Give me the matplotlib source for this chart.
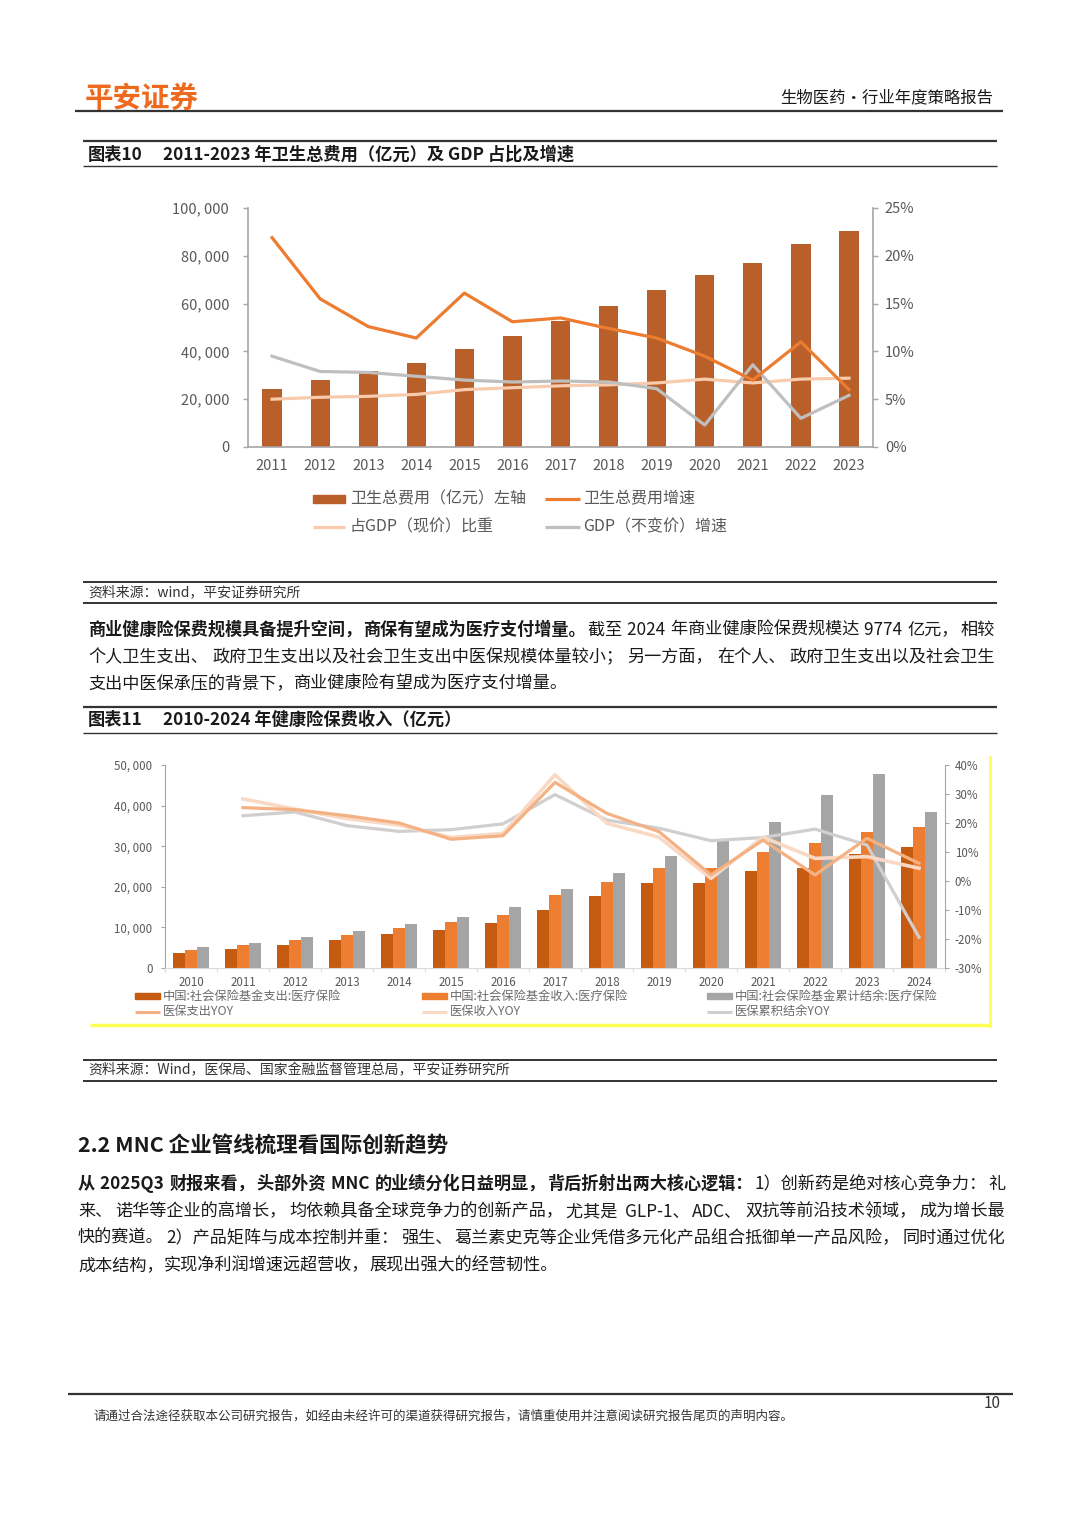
import re
import numpy as np
import matplotlib
matplotlib.use("Agg")
import matplotlib.pyplot as plt
from matplotlib.lines import Line2D
from matplotlib.patches import Rectangle

plt.rcParams['font.family'] = ['Noto Sans CJK SC', 'DejaVu Sans']

# ---- chart 10 data: health expenditure (100m yuan) and rates (%)
years1 = ['2011', '2012', '2013', '2014', '2015', '2016', '2017',
          '2018', '2019', '2020', '2021', '2022', '2023']
health_exp = [24346, 28119, 31669, 35312, 40975, 46345, 52598,
              59122, 65841, 72175, 76845, 84847, 90576]
health_growth = [21.9, 15.5, 12.6, 11.4, 16.1, 13.1, 13.5, 12.4, 11.4, 9.5, 7.0, 11.0, 6.0]
gdp_share = [5.0, 5.2, 5.3, 5.5, 6.0, 6.2, 6.4, 6.5, 6.7, 7.1, 6.7, 7.1, 7.2]
gdp_growth = [9.5, 7.9, 7.8, 7.4, 7.0, 6.8, 6.9, 6.8, 6.1, 2.3, 8.6, 3.0, 5.4]

# ---- chart 11 data: medical insurance fund (100m yuan) and YOY (%)
years2 = ['2010', '2011', '2012', '2013', '2014', '2015', '2016', '2017',
          '2018', '2019', '2020', '2021', '2022', '2023', '2024']
fund_exp = [3620, 4600, 5660, 6900, 8290, 9360, 11000, 14290,
            17810, 20860, 21010, 23970, 24550, 28080, 29720]
fund_inc = [4430, 5580, 6980, 8210, 9770, 11250, 13140, 17980,
            21260, 24560, 24710, 28650, 30710, 33420, 34800]
fund_bal = [5090, 6240, 7630, 9200, 10760, 12640, 15100, 19380,
            23320, 27590, 31280, 36040, 42610, 47780, 38500]
exp_yoy = [np.nan, 25.3, 24.6, 22.5, 20.0, 14.4, 15.6, 34.0, 23.3, 17.0, 2.1, 14.1, 2.1, 14.7, 6.1]
inc_yoy = [np.nan, 28.3, 24.8, 21.5, 19.3, 15.0, 16.4, 36.6, 19.9, 15.1, 0.9, 15.1, 7.8, 8.4, 4.4]
bal_yoy = [np.nan, 22.5, 23.8, 19.1, 17.1, 17.7, 19.7, 29.8, 21.0, 18.2, 13.9, 15.0, 17.9, 12.4, -19.4]

legend1 = ['卫生总费用（亿元）左轴', '卫生总费用增速', '占GDP（现价）比重', 'GDP（不变价）增速']
legend2 = ['中国:社会保险基金支出:医疗保险', '中国:社会保险基金收入:医疗保险',
           '中国:社会保险基金累计结余:医疗保险', '医保支出YOY', '医保收入YOY', '医保累积结余YOY']

W, H = 1080, 1528
fig = plt.figure(figsize=(W / 100, H / 100), dpi=100)
fig.patch.set_facecolor('white')
renderer = fig.canvas.get_renderer()

TXT = '#1a1a1a'
GRAY_T = '#595959'
AX_GRAY = '#A6A6A6'


def fx(x):
    return x / W


def fy(y):
    return 1 - y / H


def hline(y, x0, x1, lw=1.0, color='#333333'):
    fig.add_artist(Line2D([fx(x0), fx(x1)], [fy(y), fy(y)], lw=lw, color=color,
                          transform=fig.transFigure, solid_capstyle='butt'))


def put(x, y, s, size, bold=False, color=TXT, ha='left', **kw):
    return fig.text(fx(x), fy(y), s, fontsize=size, fontweight='bold' if bold else 'normal',
                    color=color, ha=ha, va='center', **kw)


def text_line(x0, x1, y, parts, size, justify=True):
    # split after punctuation / spaces, spread the spare room over the gaps
    chunks = []
    for s, bold in parts:
        for c in re.findall(r'[^，、；：。 ]*[，、；：。 ]?', s):
            if c:
                chunks.append((c, bold))
    objs = []
    total = 0
    for c, bold in chunks:
        t = put(x0, y, c, size, bold)
        w = t.get_window_extent(renderer).width
        objs.append((t, w))
        total += w
    gap = 0
    if justify and len(objs) > 1:
        gap = (x1 - x0 - total) / (len(objs) - 1)
    x = x0
    for t, w in objs:
        t.set_x(fx(x))
        x += w + gap


# ---------------- page header ----------------
put(85, 99, '平安证券', 20.5, bold=True, color='#EE6A1F')
put(993, 98, '生物医药·行业年度策略报告', 11.8, ha='right')
hline(111, 75, 1003, lw=1.6)

# ---------------- chart 10 ----------------
hline(141, 83, 997, lw=1.6)
put(88, 155, '图表10', 12.4, bold=True)
put(163, 155, '2011-2023 年卫生总费用（亿元）及 GDP 占比及增速', 12.4, bold=True)
hline(166, 83, 997, lw=1.0)

ax1 = fig.add_axes([fx(248), fy(447), 625 / W, 239 / H])
x1 = np.arange(len(years1))
ax1.bar(x1, health_exp, width=0.4, color='#B9602A', zorder=2)
ax1.set_xlim(-0.5, len(years1) - 0.5)
ax1.set_ylim(0, 100000)
yt = list(range(0, 100001, 20000))
ax1.set_yticks(yt)
ax1.set_yticklabels([f"{v:,}".replace(",", ", ") for v in yt])
ax1.set_xticks(x1)
ax1.set_xticklabels(years1)
ax1.tick_params(axis='x', length=0, pad=9, labelsize=10.5, labelcolor=GRAY_T)
ax1.tick_params(axis='y', length=3.5, width=1, color=AX_GRAY, pad=10, labelsize=10.5, labelcolor=GRAY_T)
for s in ['top', 'right']:
    ax1.spines[s].set_visible(False)
for s in ['left', 'bottom']:
    ax1.spines[s].set_color(AX_GRAY)
    ax1.spines[s].set_linewidth(1.2)

ax1b = ax1.twinx()
ax1b.plot(x1, gdp_share, color='#F8CBAD', lw=2.3, solid_joinstyle='round')
ax1b.plot(x1, gdp_growth, color='#BFBFBF', lw=2.3, solid_joinstyle='round')
ax1b.plot(x1, health_growth, color='#EC7C30', lw=2.3, solid_joinstyle='round')
ax1b.set_ylim(0, 25)
ax1b.set_yticks(range(0, 26, 5))
ax1b.set_yticklabels([f"{v}%" for v in range(0, 26, 5)])
ax1b.tick_params(axis='y', length=3.5, width=1, color=AX_GRAY, pad=5, labelsize=10.5, labelcolor=GRAY_T)
for s in ['top', 'left', 'bottom']:
    ax1b.spines[s].set_visible(False)
ax1b.spines['right'].set_color(AX_GRAY)
ax1b.spines['right'].set_linewidth(1.2)

# legend for chart 10
fig.add_artist(Rectangle((fx(313), fy(503)), 32 / W, 8 / H, color='#B9602A', transform=fig.transFigure))
put(350, 499, legend1[0], 11.5, color=GRAY_T)
hline(499, 545, 580, lw=2.3, color='#EC7C30')
put(583, 499, legend1[1], 11.5, color=GRAY_T)
hline(527, 313, 345, lw=2.3, color='#F8CBAD')
put(350, 527, legend1[2], 11.5, color=GRAY_T)
hline(527, 545, 580, lw=2.3, color='#BFBFBF')
put(583, 527, legend1[3], 11.5, color=GRAY_T)

hline(582, 83, 997, lw=1.4)
put(88, 592, '资料来源：wind，平安证券研究所', 10, color='#333333', style='italic')
hline(603, 83, 997, lw=1.4)

# ---------------- paragraph 1 ----------------
PS = 12.35
text_line(88, 995, 630, [('商业健康险保费规模具备提升空间，商保有望成为医疗支付增量。', True),
                         ('截至 2024 年商业健康险保费规模达 9774 亿元，相较', False)], PS)
text_line(88, 995, 657, [('个人卫生支出、政府卫生支出以及社会卫生支出中医保规模体量较小；另一方面，在个人、政府卫生支出以及社会卫生', False)], PS)
text_line(88, 995, 684, [('支出中医保承压的背景下，商业健康险有望成为医疗支付增量。', False)], PS, justify=False)

# ---------------- chart 11 ----------------
hline(707, 83, 997, lw=1.6)
put(88, 720, '图表11', 12.4, bold=True)
put(163, 720, '2010-2024 年健康险保费收入（亿元）', 12.4, bold=True)
hline(733, 83, 997, lw=1.0)

ax2 = fig.add_axes([fx(165), fy(968), 780 / W, 203 / H])
x2 = np.arange(len(years2))
bw = 0.225
ax2.bar(x2 - bw, fund_exp, width=bw, color='#C55A11', zorder=2)
ax2.bar(x2, fund_inc, width=bw, color='#ED7D31', zorder=2)
ax2.bar(x2 + bw, fund_bal, width=bw, color='#A5A5A5', zorder=2)
ax2.set_xlim(-0.5, len(years2) - 0.5)
ax2.set_ylim(0, 50000)
yt2 = list(range(0, 50001, 10000))
ax2.set_yticks(yt2)
ax2.set_yticklabels([f"{v:,}".replace(",", ", ") for v in yt2])
ax2.set_xticks(np.arange(-0.5, len(years2), 1.0))
ax2.set_xticklabels([])
ax2.set_xticks(x2, minor=True)
ax2.set_xticklabels(years2, minor=True)
ax2.tick_params(axis='x', which='major', length=3, color='#D9D9D9')
ax2.tick_params(axis='x', which='minor', length=0, pad=6, labelsize=8.3, labelcolor=GRAY_T)
ax2.tick_params(axis='y', length=3, color=AX_GRAY, pad=6, labelsize=8.3, labelcolor=GRAY_T)
for s in ['top', 'right']:
    ax2.spines[s].set_visible(False)
ax2.spines['left'].set_color(AX_GRAY)
ax2.spines['bottom'].set_color('#D9D9D9')

ax2b = ax2.twinx()
ax2b.plot(x2, bal_yoy, color='#D0CECE', lw=2.3, solid_joinstyle='round')
ax2b.plot(x2, inc_yoy, color='#F9D9C3', lw=2.6, solid_joinstyle='round')
ax2b.plot(x2, exp_yoy, color='#F4B183', lw=2.3, solid_joinstyle='round')
ax2b.set_ylim(-30, 40)
ax2b.set_yticks(range(-30, 41, 10))
ax2b.set_yticklabels([f"{v}%" for v in range(-30, 41, 10)])
ax2b.tick_params(axis='y', length=3, color=AX_GRAY, pad=4, labelsize=8.3, labelcolor=GRAY_T)
for s in ['top', 'left', 'bottom']:
    ax2b.spines[s].set_visible(False)
ax2b.spines['right'].set_color(AX_GRAY)

# legend for chart 11
LG = '#6b6b6b'
bar_cols = ['#C55A11', '#ED7D31', '#A5A5A5']
line_cols = ['#F4B183', '#F9D9C3', '#D0CECE']
for i, xs in enumerate([135, 422, 707]):
    fig.add_artist(Rectangle((fx(xs), fy(999)), 25 / W, 6 / H, color=bar_cols[i],
                             transform=fig.transFigure))
    put(xs + 28, 996, legend2[i], 8.8, color=LG)
    hline(1012, xs, xs + 25, lw=2.2, color=line_cols[i])
    put(xs + 28, 1012, legend2[i + 3], 8.8, color=LG)

# yellow frame remains of the pasted chart
hline(1025, 90, 991, lw=2.5, color='#FFFF55')
fig.add_artist(Line2D([fx(990), fx(990)], [fy(757), fy(1026)], lw=2.0, color='#FFFF55',
                      transform=fig.transFigure))

hline(1060, 83, 997, lw=1.4)
put(88, 1070, '资料来源：Wind，医保局、国家金融监督管理总局，平安证券研究所', 10, color='#333333', style='italic')
hline(1081, 83, 997, lw=1.4)

# ---------------- section 2.2 ----------------
put(78, 1145, '2.2 MNC 企业管线梳理看国际创新趋势', 15.5, bold=True)
text_line(78, 1005, 1184, [('从 2025Q3 财报来看，头部外资 MNC 的业绩分化日益明显，背后折射出两大核心逻辑：', True),
                           ('1）创新药是绝对核心竞争力：礼', False)], PS)
text_line(78, 1005, 1211, [('来、诺华等企业的高增长，均依赖具备全球竞争力的创新产品，尤其是 GLP-1、ADC、双抗等前沿技术领域，成为增长最', False)], PS)
text_line(78, 1005, 1238, [('快的赛道。2）产品矩阵与成本控制并重：强生、葛兰素史克等企业凭借多元化产品组合抵御单一产品风险，同时通过优化', False)], PS)
text_line(78, 1005, 1265, [('成本结构，实现净利润增速远超营收，展现出强大的经营韧性。', False)], PS, justify=False)

# ---------------- footer ----------------
hline(1394, 68, 1013, lw=1.6)
put(1001, 1404, '10', 11, ha='right', color='#333333')
put(93, 1416, '请通过合法途径获取本公司研究报告，如经由未经许可的渠道获得研究报告，请慎重使用并注意阅读研究报告尾页的声明内容。',
    9.0, color='#333333')

fig.savefig('out.png', dpi=100, facecolor='white')
